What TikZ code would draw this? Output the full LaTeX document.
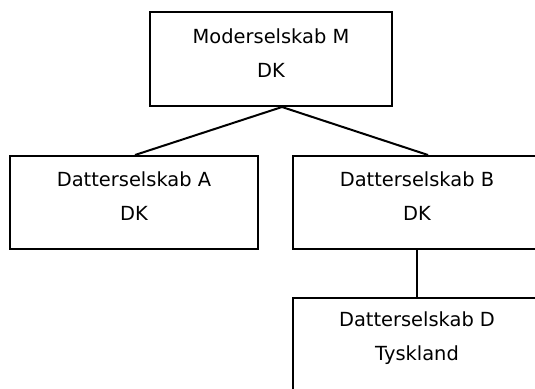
\documentclass[tikz,border=0pt]{standalone}
\usepackage{fontspec}
\setmainfont{DejaVu Sans}
\begin{document}
\begin{tikzpicture}[x=1bp,y=1bp,
  box/.style={draw=black, line width=2bp, rectangle, align=center,
    minimum width=244bp, inner sep=0pt, text depth=12bp,
    font=\fontsize{19.5}{34}\selectfont},
  conn/.style={draw=black, line width=2bp}]
\useasboundingbox (0,0) rectangle (535,388);
\clip (0,0) rectangle (535,388);
\fill[white] (0,0) rectangle (535,388);
\node[box, minimum width=242bp, minimum height=94bp] (M) at (271,329) {Moderselskab M\\DK};
\node[box, minimum width=248bp, minimum height=93bp] (A) at (134,185.5) {Datterselskab A\\DK};
\node[box, minimum width=248bp, minimum height=93bp] (B) at (417,185.5) {Datterselskab B\\DK};
\node[box, minimum width=248bp, minimum height=100bp, text depth=24bp] (D) at (417,40) {Datterselskab D\\Tyskland};
\draw[conn] ([xshift=11bp]M.south) -- ([xshift=1bp]A.north);
\draw[conn] ([xshift=11bp]M.south) -- ([xshift=11bp]B.north);
\draw[conn] (B.south) -- (D.north);
\end{tikzpicture}
\end{document}
